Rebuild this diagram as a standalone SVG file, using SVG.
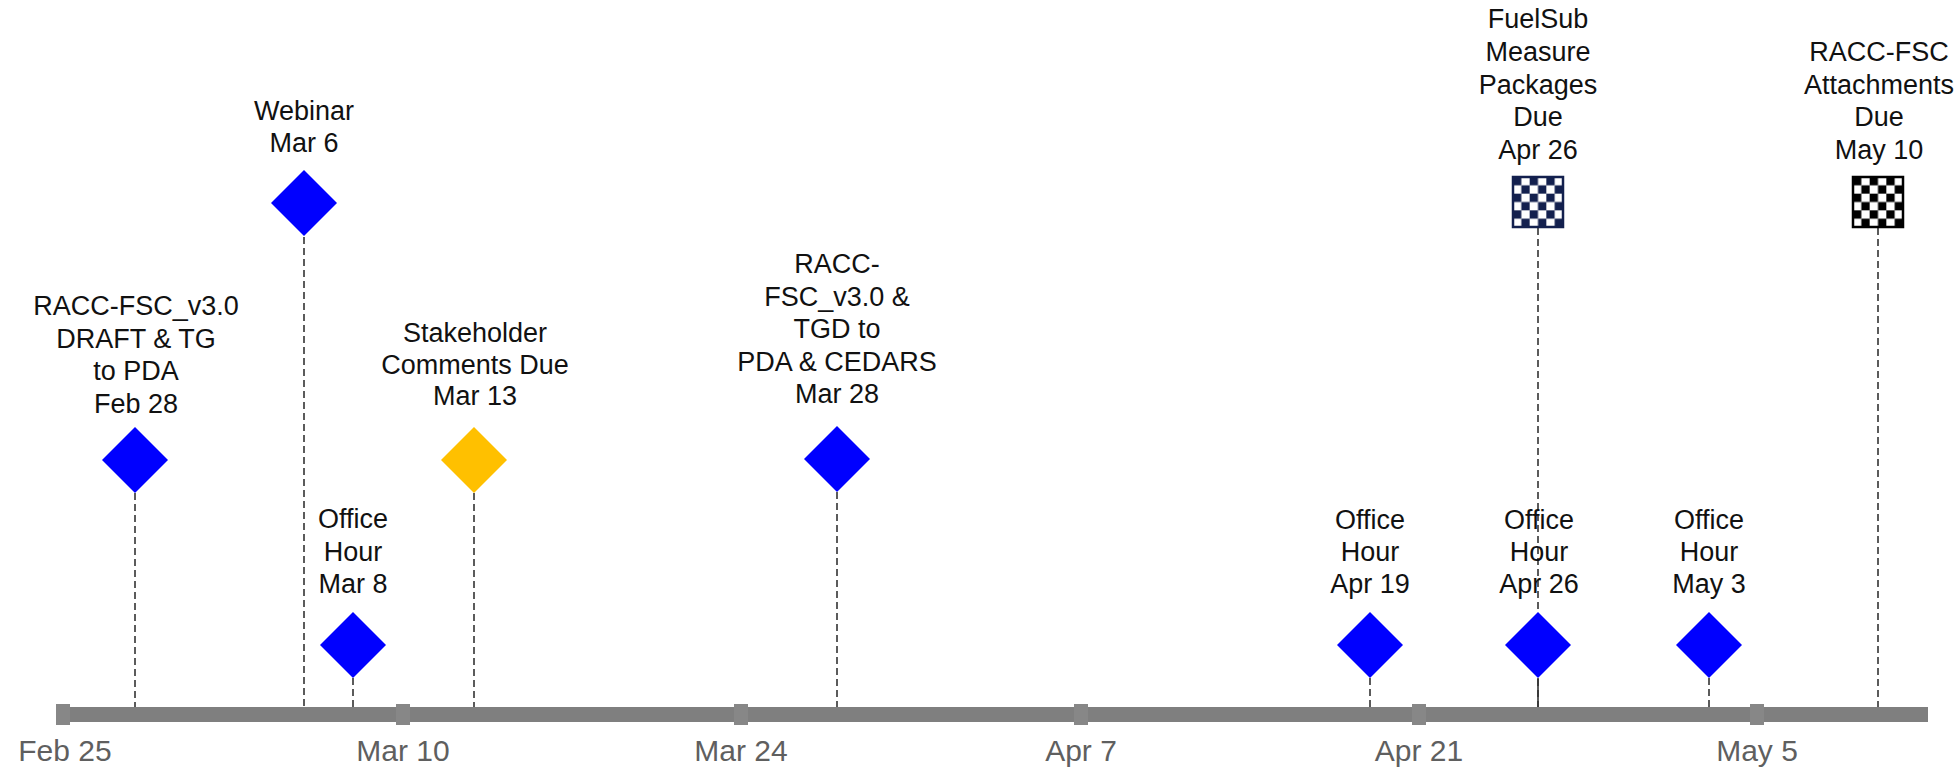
<svg xmlns="http://www.w3.org/2000/svg" width="1959" height="769" viewBox="0 0 1959 769">
<style>
  .lbl { font-family: "Liberation Sans", Arial, sans-serif; font-size: 27px; fill: #111; text-anchor: middle; }
  .ax { font-family: "Liberation Sans", Arial, sans-serif; font-size: 30px; fill: #5f5f5f; text-anchor: middle; }
  .dash { stroke: #333; stroke-width: 1.6; stroke-dasharray: 7 4; fill: none; }
  .solid { stroke: #333; stroke-width: 1.6; fill: none; }
  .blue { fill: #0000FF; }
  .gold { fill: #FFC000; }
  .bar { fill: #7f7f7f; }
  .tick { fill: #878787; }
</style>
<defs>
  <pattern id="chkNavy" patternUnits="userSpaceOnUse" width="16.667" height="16.667">
    <rect width="16.667" height="16.667" fill="#ffffff"/>
    <rect width="8.333" height="8.333" fill="#13204e"/>
    <rect x="8.333" y="8.333" width="8.333" height="8.333" fill="#13204e"/>
  </pattern>
  <pattern id="chkBlack" patternUnits="userSpaceOnUse" width="16.667" height="16.667">
    <rect width="16.667" height="16.667" fill="#ffffff"/>
    <rect width="8.333" height="8.333" fill="#000000"/>
    <rect x="8.333" y="8.333" width="8.333" height="8.333" fill="#000000"/>
  </pattern>
  <path id="diamond" d="M0,-33 L33,0 L0,33 L-33,0 Z"/>
</defs>

<rect width="1959" height="769" fill="#ffffff"/>

<g id="connectors">
  <line class="dash" x1="135" y1="493" x2="135" y2="707"/>
  <line class="dash" x1="304" y1="237" x2="304" y2="707"/>
  <line class="dash" x1="353" y1="678" x2="353" y2="707"/>
  <line class="dash" x1="474" y1="493" x2="474" y2="707"/>
  <line class="dash" x1="837" y1="492" x2="837" y2="707"/>
  <line class="dash" x1="1370" y1="678" x2="1370" y2="707"/>
  <line class="dash" x1="1538" y1="228" x2="1538" y2="707"/>
  <line class="solid" x1="1538" y1="678" x2="1538" y2="707"/>
  <line class="dash" x1="1709" y1="678" x2="1709" y2="707"/>
  <line class="dash" x1="1878" y1="228" x2="1878" y2="707"/>
</g>

<g id="axis">
  <rect class="bar" x="56" y="707" width="1872" height="15"/>
  <rect class="tick" x="56" y="704" width="14" height="21"/>
  <rect class="tick" x="396" y="704" width="14" height="21"/>
  <rect class="tick" x="734" y="704" width="14" height="21"/>
  <rect class="tick" x="1074" y="704" width="14" height="21"/>
  <rect class="tick" x="1412" y="704" width="14" height="21"/>
  <rect class="tick" x="1750" y="704" width="14" height="21"/>
  <text class="ax" x="65" y="761">Feb 25</text>
  <text class="ax" x="403" y="761">Mar 10</text>
  <text class="ax" x="741" y="761">Mar 24</text>
  <text class="ax" x="1081" y="761">Apr 7</text>
  <text class="ax" x="1419" y="761">Apr 21</text>
  <text class="ax" x="1757" y="761">May 5</text>
</g>

<g id="ev-feb28">
  <use href="#diamond" class="blue" x="135" y="460"/>
  <text class="lbl" x="136" y="315">RACC-FSC_v3.0</text>
  <text class="lbl" x="136" y="347.5">DRAFT &amp; TG</text>
  <text class="lbl" x="136" y="380">to PDA</text>
  <text class="lbl" x="136" y="412.5">Feb 28</text>
</g>

<g id="ev-mar6">
  <use href="#diamond" class="blue" x="304" y="203"/>
  <text class="lbl" x="304" y="119.5">Webinar</text>
  <text class="lbl" x="304" y="151.5">Mar 6</text>
</g>

<g id="ev-mar8">
  <use href="#diamond" class="blue" x="353" y="645"/>
  <text class="lbl" x="353" y="528">Office</text>
  <text class="lbl" x="353" y="560.5">Hour</text>
  <text class="lbl" x="353" y="593">Mar 8</text>
</g>

<g id="ev-mar13">
  <use href="#diamond" class="gold" x="474" y="460"/>
  <text class="lbl" x="475" y="341.5">Stakeholder</text>
  <text class="lbl" x="475" y="373.5">Comments Due</text>
  <text class="lbl" x="475" y="405">Mar 13</text>
</g>

<g id="ev-mar28">
  <use href="#diamond" class="blue" x="837" y="459"/>
  <text class="lbl" x="837" y="273">RACC-</text>
  <text class="lbl" x="837" y="305.5">FSC_v3.0 &amp;</text>
  <text class="lbl" x="837" y="338">TGD to</text>
  <text class="lbl" x="837" y="370.5">PDA &amp; CEDARS</text>
  <text class="lbl" x="837" y="403">Mar 28</text>
</g>

<g id="ev-apr19">
  <use href="#diamond" class="blue" x="1370" y="645"/>
  <text class="lbl" x="1370" y="528.5">Office</text>
  <text class="lbl" x="1370" y="561">Hour</text>
  <text class="lbl" x="1370" y="593">Apr 19</text>
</g>

<g id="ev-apr26-office">
  <use href="#diamond" class="blue" x="1538" y="645"/>
  <text class="lbl" x="1539" y="528.5">Office</text>
  <text class="lbl" x="1539" y="561">Hour</text>
  <text class="lbl" x="1539" y="593">Apr 26</text>
</g>

<g id="ev-may3">
  <use href="#diamond" class="blue" x="1709" y="645"/>
  <text class="lbl" x="1709" y="528.5">Office</text>
  <text class="lbl" x="1709" y="561">Hour</text>
  <text class="lbl" x="1709" y="593">May 3</text>
</g>

<g id="ev-apr26-fuelsub">
  <g transform="translate(1513,177)">
    <rect x="0" y="0" width="50" height="50" fill="url(#chkNavy)" stroke="#13204e" stroke-width="2.5"/>
  </g>
  <text class="lbl" x="1538" y="28">FuelSub</text>
  <text class="lbl" x="1538" y="61">Measure</text>
  <text class="lbl" x="1538" y="93.5">Packages</text>
  <text class="lbl" x="1538" y="126">Due</text>
  <text class="lbl" x="1538" y="158.5">Apr 26</text>
</g>

<g id="ev-may10">
  <g transform="translate(1853,177)">
    <rect x="0" y="0" width="50" height="50" fill="url(#chkBlack)" stroke="#000000" stroke-width="2.5"/>
  </g>
  <text class="lbl" x="1879" y="61">RACC-FSC</text>
  <text class="lbl" x="1879" y="93.5">Attachments</text>
  <text class="lbl" x="1879" y="126">Due</text>
  <text class="lbl" x="1879" y="158.5">May 10</text>
</g>
</svg>
